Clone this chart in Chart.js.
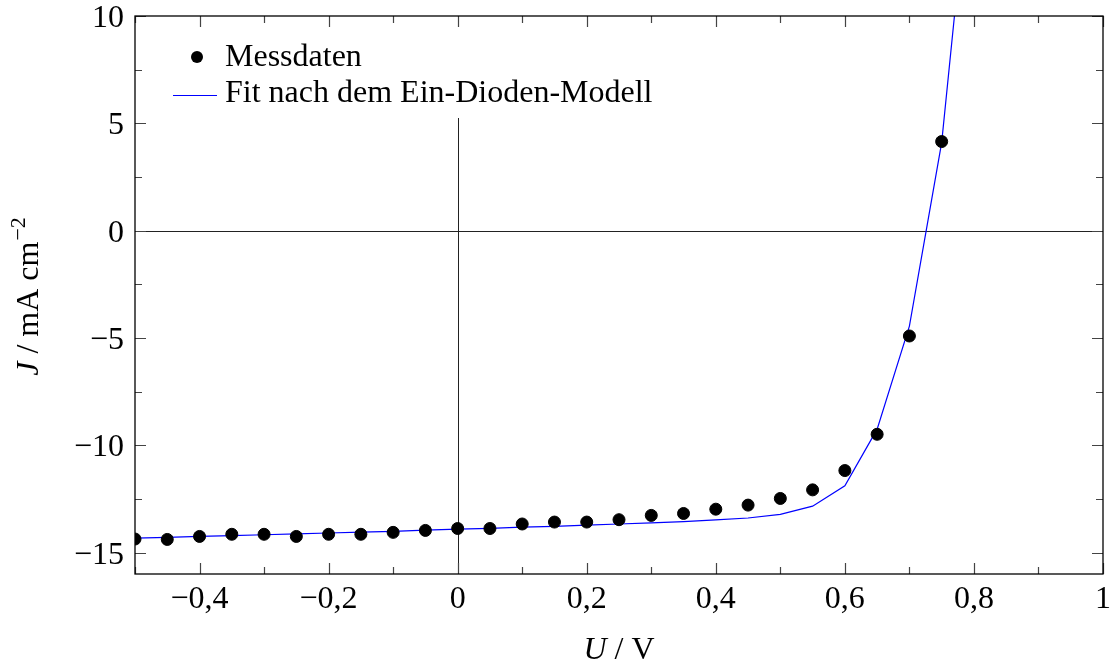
<!DOCTYPE html>
<html lang="de">
<head>
<meta charset="utf-8">
<title>Kennlinie</title>
<script src="https://cdn.jsdelivr.net/npm/chart.js@4"></script>
<style>
    body { margin: 0; background: #fff; }
    #box { position: relative; width: 1110px; height: 671px; }
</style>
</head>
<body>
<div id="box"><canvas id="kennlinie"></canvas></div>
<script>
// Messwerte (U in V, J in mA/cm^2)
const spannung = [-0.5, -0.45, -0.4, -0.35, -0.3, -0.25, -0.2, -0.15, -0.1, -0.05, 0, 0.05, 0.1,
    0.15, 0.2, 0.25, 0.3, 0.35, 0.4, 0.45, 0.5, 0.55, 0.6, 0.65, 0.7, 0.75]
const messStrom = [-14.37, -14.39, -14.25, -14.15, -14.15, -14.25, -14.15, -14.15, -14.06, -13.97, -13.88, -13.88, -13.67,
    -13.58, -13.58, -13.47, -13.27, -13.18, -12.98, -12.79, -12.48, -12.08, -11.18, -9.49, -4.91, 4.15]

// Fit nach dem Ein-Dioden-Modell
const fitSpannung = [-0.5, -0.45, -0.4, -0.35, -0.3, -0.25, -0.2, -0.15, -0.1, -0.05, 0, 0.05, 0.1,
    0.15, 0.2, 0.25, 0.3, 0.35, 0.4, 0.45, 0.5, 0.55, 0.6, 0.65, 0.7, 0.75, 0.8]
const fitStrom = [-14.33, -14.29, -14.25, -14.21, -14.17, -14.13, -14.09, -14.05, -14.01, -13.96, -13.91, -13.87, -13.82,
    -13.78, -13.72, -13.67, -13.62, -13.56, -13.48, -13.39, -13.22, -12.84, -11.89, -9.25, -4.45, 4.1, 19]

// Achsen
const xBereich = [-0.5, 1]
const yBereich = [-16, 10]
const xBeschriftung = [-0.4, -0.2, 0, 0.2, 0.4, 0.6, 0.8, 1]
const yBeschriftung = [-15, -10, -5, 0, 5, 10]

const schrift = "'Liberation Serif', 'Times New Roman', serif"

function zahl(v) {
    let s = String(Math.round(v * 100) / 100).replace('.', ',')
    return s.replace('-', '\u2212')
}

function istMarke(v, liste) {
    return liste.some(m => Math.abs(m - v) < 1e-6)
}

// Ticks nach innen, Nulllinien, Legende, Beschriftung
const achsenPlugin = {
    id: 'achsen',
    beforeDatasetsDraw(chart) {
        const { ctx, chartArea: a, scales: { x, y } } = chart
        ctx.save()
        ctx.strokeStyle = '#222'
        ctx.lineWidth = 1
        const y0 = Math.round(y.getPixelForValue(0)) + 0.5
        const x0 = Math.round(x.getPixelForValue(0)) + 0.5
        ctx.beginPath()
        ctx.moveTo(a.left, y0); ctx.lineTo(a.right, y0)
        ctx.moveTo(x0, a.top); ctx.lineTo(x0, a.bottom)
        ctx.stroke()
        ctx.restore()
    },
    afterDraw(chart) {
        const { ctx, chartArea: a, scales: { x, y } } = chart
        ctx.save()

        // Legende
        ctx.fillStyle = '#fff'
        ctx.fillRect(160, 26, 505, 92)
        ctx.fillStyle = '#000'
        ctx.beginPath()
        ctx.arc(197, 57, 6, 0, Math.PI * 2)
        ctx.fill()
        ctx.strokeStyle = '#0000ff'
        ctx.lineWidth = 1.2
        ctx.beginPath()
        ctx.moveTo(173, 95.5); ctx.lineTo(217, 95.5)
        ctx.stroke()
        ctx.font = '32px ' + schrift
        ctx.textBaseline = 'alphabetic'
        ctx.textAlign = 'left'
        ctx.fillText('Messdaten', 225, 66)
        ctx.fillText('Fit nach dem Ein-Dioden-Modell', 225, 102)

        // Ticks
        ctx.strokeStyle = '#444'
        ctx.lineWidth = 1.2
        ctx.beginPath()
        x.ticks.forEach(t => {
            const px = Math.round(x.getPixelForValue(t.value)) + 0.5
            const len = istMarke(t.value, xBeschriftung) ? 11 : 7
            ctx.moveTo(px, a.bottom); ctx.lineTo(px, a.bottom - len)
            ctx.moveTo(px, a.top); ctx.lineTo(px, a.top + len)
        })
        y.ticks.forEach(t => {
            const py = Math.round(y.getPixelForValue(t.value)) + 0.5
            const len = istMarke(t.value, yBeschriftung) ? 11 : 7
            ctx.moveTo(a.left, py); ctx.lineTo(a.left + len, py)
            ctx.moveTo(a.right, py); ctx.lineTo(a.right - len, py)
        })
        ctx.stroke()

        // Rahmen
        ctx.strokeStyle = '#000'
        ctx.lineWidth = 1.3
        ctx.strokeRect(a.left, a.top, a.right - a.left, a.bottom - a.top)

        // Tick-Beschriftung
        ctx.fillStyle = '#000'
        ctx.font = '32px ' + schrift
        ctx.textAlign = 'center'
        xBeschriftung.forEach(v => {
            ctx.fillText(zahl(v), x.getPixelForValue(v), a.bottom + 34)
        })
        ctx.textAlign = 'right'
        yBeschriftung.forEach(v => {
            ctx.fillText(zahl(v), a.left - 11, y.getPixelForValue(v) + 11)
        })
        ctx.textAlign = 'left'

        // Achsentitel
        const kursiv = 'italic 32px ' + schrift
        const normal = '32px ' + schrift
        const hoch = '22px ' + schrift

        ctx.font = kursiv
        const wU = ctx.measureText('U').width
        ctx.font = normal
        const wRestX = ctx.measureText(' / V').width
        let sx = (a.left + a.right) / 2 - (wU + wRestX) / 2
        ctx.font = kursiv
        ctx.fillText('U', sx, 659)
        ctx.font = normal
        ctx.fillText(' / V', sx + wU, 659)

        ctx.translate(38, 297)
        ctx.rotate(-Math.PI / 2)
        ctx.font = kursiv
        const wJ = ctx.measureText('J').width
        ctx.font = normal
        const wMitte = ctx.measureText(' / mA cm').width
        ctx.font = hoch
        const wExp = ctx.measureText('\u22122').width
        let sy = -(wJ + wMitte + wExp) / 2
        ctx.font = kursiv
        ctx.fillText('J', sy, 0)
        ctx.font = normal
        ctx.fillText(' / mA cm', sy + wJ, 0)
        ctx.font = hoch
        ctx.fillText('\u22122', sy + wJ + wMitte + 1, -13)
        ctx.restore()
    }
}

const ctx = document.getElementById('kennlinie').getContext('2d')
const chart = new Chart(ctx, {
    type: 'scatter',
    data: {
        datasets: [{
            label: 'Messdaten',
            data: spannung.map((u, i) => ({ x: u, y: messStrom[i] })),
            backgroundColor: '#000',
            borderColor: '#000',
            pointRadius: 6,
            pointHoverRadius: 6,
            order: 1
        }, {
            label: 'Fit nach dem Ein-Dioden-Modell',
            data: fitSpannung.map((u, i) => ({ x: u, y: fitStrom[i] })),
            showLine: true,
            borderColor: '#0000ff',
            borderWidth: 1.2,
            pointRadius: 0,
            tension: 0,
            order: 2
        }]
    },
    options: {
        responsive: true,
        maintainAspectRatio: false,
        animation: false,
        layout: { padding: { top: 16, right: 6, left: 0, bottom: 0 } },
        plugins: { legend: { display: false }, tooltip: { enabled: false } },
        scales: {
            x: {
                type: 'linear',
                min: xBereich[0],
                max: xBereich[1],
                grid: { display: false, drawTicks: false },
                border: { display: false },
                ticks: { stepSize: 0.1, includeBounds: false, display: false },
                afterFit: s => { s.height = 97 }
            },
            y: {
                type: 'linear',
                min: yBereich[0],
                max: yBereich[1],
                grid: { display: false, drawTicks: false },
                border: { display: false },
                ticks: { stepSize: 2.5, includeBounds: false, display: false },
                afterFit: s => { s.width = 135 }
            }
        }
    },
    plugins: [achsenPlugin]
})
</script>
</body>
</html>
